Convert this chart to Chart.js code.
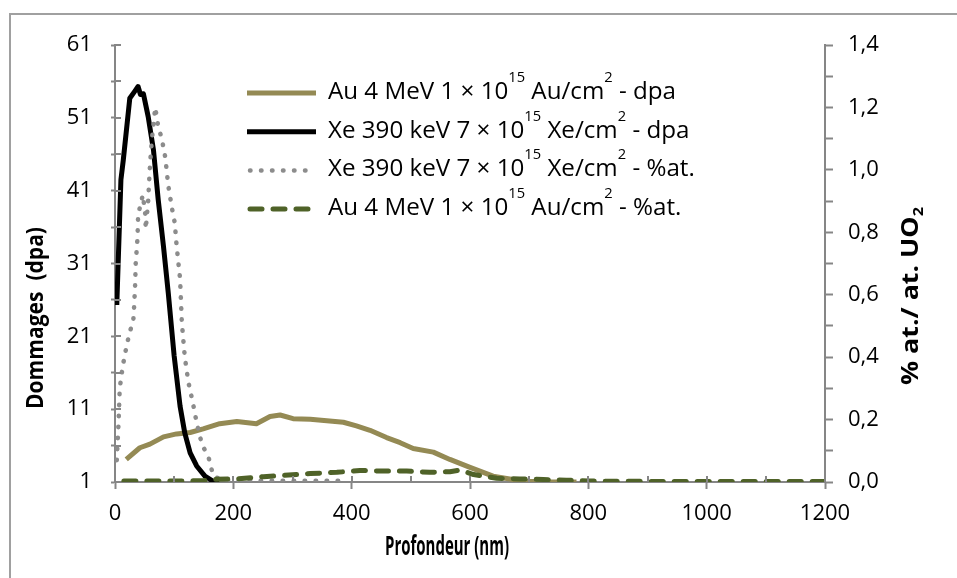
<!DOCTYPE html>
<html>
<head>
<meta charset="utf-8">
<script src="https://cdn.jsdelivr.net/npm/chart.js@4.4.1/dist/chart.umd.min.js"></script>
<style>
  html, body { margin: 0; padding: 0; background: #fff; }
</style>
</head>
<body>
<canvas id="c" width="957" height="578"></canvas>
<script>
// Profondeur (nm) et valeurs
const auDpaDepth = [19, 42, 59, 82, 104, 127, 149, 177, 206, 239, 262, 279, 301, 330, 358, 386, 408, 431, 459, 482, 504, 538, 566, 600, 639, 690, 735, 780];
const auDpa      = [4.1, 5.7, 6.2, 7.2, 7.6, 7.8, 8.3, 9.0, 9.3, 9.0, 10.0, 10.2, 9.7, 9.6, 9.4, 9.2, 8.7, 8.1, 7.1, 6.4, 5.6, 5.1, 4.1, 3.0, 1.8, 1.1, 1.0, 1.0];

const xeDpaDepth = [3, 10, 14, 25, 33, 39, 43, 48, 56, 65, 73, 82, 90, 100, 110, 118, 127, 138, 152, 166, 176];
const xeDpa      = [25.3, 42.5, 45.2, 53.7, 54.6, 55.3, 54.2, 54.3, 51.2, 46.6, 39.8, 33.3, 27.0, 18.3, 11.4, 7.7, 5.0, 3.2, 1.8, 1.1, 1.0];

const xePctDepth = [3, 6, 8, 13, 20, 25, 31, 32, 34, 35, 38, 39, 42, 47, 51, 52, 56, 59, 62, 68, 73, 79, 85, 90, 96, 101, 104, 110, 113, 118, 124, 132, 138, 147, 158, 166, 180, 220, 260, 300, 340, 386];
const xePct      = [0.07, 0.19, 0.30, 0.37, 0.44, 0.48, 0.52, 0.55, 0.63, 0.70, 0.78, 0.85, 0.88, 0.92, 0.86, 0.81, 0.90, 1.01, 1.09, 1.20, 1.14, 1.10, 1.04, 0.95, 0.88, 0.83, 0.76, 0.65, 0.51, 0.40, 0.32, 0.25, 0.19, 0.12, 0.08, 0.02, 0.006, 0.004, 0.004, 0.004, 0.004, 0.004];

const auPctDepth = [15, 60, 100, 150, 160, 206, 251, 284, 330, 375, 414, 453, 493, 532, 566, 583, 606, 645, 684, 724, 763, 800, 900, 1000, 1100, 1200];
const auPct      = [0.003, 0.003, 0.003, 0.004, 0.008, 0.010, 0.017, 0.021, 0.027, 0.031, 0.037, 0.035, 0.035, 0.031, 0.033, 0.038, 0.024, 0.012, 0.010, 0.008, 0.006, 0.003, 0.002, 0.002, 0.002, 0.002];

const seriesLabels = [
    'Au 4 MeV 1 × 10^15 Au/cm^2 - dpa',
    'Xe 390 keV 7 × 10^15 Xe/cm^2 - dpa',
    'Xe 390 keV 7 × 10^15 Xe/cm^2 - %at.',
    'Au 4 MeV 1 × 10^15 Au/cm^2 - %at.'
];
const leftTicks = [1, 6, 11, 16, 21, 26, 31, 36, 41, 46, 51, 56, 61];

const axisColor = '#868686';
const fontFamily = '"Open Sans", "DejaVu Sans", sans-serif';
const tickFont = { family: fontFamily, size: 22 };

function points(xs, ys) {
    return xs.map((x, i) => ({ x: x, y: ys[i] }));
}

// texte éventuellement compressé dans le sens de lecture
function drawFitted(ctx, parts, cx, cy, angle, targetLen, size) {
    ctx.save();
    const subSize = Math.round(size * 0.62);
    let total = 0;
    parts.forEach(p => {
        ctx.font = 'bold ' + (p.sub ? subSize : size) + 'px ' + fontFamily;
        total += ctx.measureText(p.t).width;
    });
    const k = targetLen / total;
    ctx.translate(cx, cy);
    ctx.rotate(angle);
    ctx.scale(k, 1);
    ctx.fillStyle = '#000';
    ctx.textBaseline = 'middle';
    let x = -total / 2;
    parts.forEach(p => {
        ctx.font = 'bold ' + (p.sub ? subSize : size) + 'px ' + fontFamily;
        ctx.fillText(p.t, x, p.sub ? size * 0.35 : 0);
        x += ctx.measureText(p.t).width;
    });
    ctx.restore();
}

const decorPlugin = {
    id: 'decor',
    beforeDraw(chart) {
        const ctx = chart.ctx;
        ctx.save();
        ctx.fillStyle = '#fff';
        ctx.fillRect(0, 0, chart.width, chart.height);
        ctx.strokeStyle = '#a0a0a0';
        ctx.lineWidth = 2;
        ctx.strokeRect(10, 14, 980, 620);
        ctx.restore();
    },
    afterDraw(chart) {
        const ctx = chart.ctx;
        const area = chart.chartArea;

        // graduations côté intérieur
        ctx.save();
        ctx.strokeStyle = axisColor;
        ctx.lineWidth = 2;
        ctx.beginPath();
        chart.scales.x.ticks.forEach(t => {
            const px = Math.round(chart.scales.x.getPixelForValue(t.value));
            ctx.moveTo(px, area.bottom);
            ctx.lineTo(px, area.bottom - 6);
        });
        chart.scales.y.ticks.forEach(t => {
            const py = Math.round(chart.scales.y.getPixelForValue(t.value));
            ctx.moveTo(area.left, py);
            ctx.lineTo(area.left + 6, py);
        });
        ctx.stroke();
        ctx.restore();

        drawFitted(ctx, [{ t: 'Dommages  (dpa)' }], 36.5, 318, -Math.PI / 2, 182, 23);
        drawFitted(ctx, [{ t: 'Profondeur (nm)' }], 447, 548, 0, 124, 26);
        drawFitted(ctx, [{ t: '% at./ at. UO' }, { t: '2', sub: true }], 911, 296, -Math.PI / 2, 178, 23);

        // légende
        const size = 23, supSize = 14;
        ctx.save();
        const ref = seriesLabels[0].split(/\^(\d+)/);
        let refW = 0;
        ref.forEach((s, j) => {
            ctx.font = (j % 2 ? supSize : size) + 'px ' + fontFamily;
            refW += ctx.measureText(s).width;
        });
        const k = 348 / refW;
        chart.data.datasets.forEach((ds, i) => {
            const y = 93 + i * 38.7;
            ctx.save();
            ctx.strokeStyle = ds.borderColor;
            ctx.lineWidth = ds.borderWidth;
            ctx.lineCap = ds.borderCapStyle || 'butt';
            ctx.setLineDash(ds.borderDash || []);
            ctx.beginPath();
            ctx.moveTo(ds.borderDash ? 250 : 247, y);
            ctx.lineTo(ds.borderDash ? 314 : 316, y);
            ctx.stroke();
            ctx.restore();

            ctx.save();
            ctx.translate(328, y + 6);
            ctx.scale(k, 1);
            ctx.fillStyle = '#000';
            ctx.textBaseline = 'alphabetic';
            let x = 0;
            seriesLabels[i].split(/\^(\d+)/).forEach((s, j) => {
                ctx.font = (j % 2 ? supSize : size) + 'px ' + fontFamily;
                ctx.fillText(s, x, j % 2 ? -17 : 0);
                x += ctx.measureText(s).width;
            });
            ctx.restore();
        });
        ctx.restore();
    }
};

new Chart(document.getElementById('c').getContext('2d'), {
    type: 'line',
    data: {
        datasets: [{
            label: seriesLabels[0],
            data: points(auDpaDepth, auDpa),
            yAxisID: 'y',
            borderColor: '#948A54',
            borderWidth: 5,
            order: 4
        }, {
            label: seriesLabels[1],
            data: points(xeDpaDepth, xeDpa),
            yAxisID: 'y',
            borderColor: '#000000',
            borderWidth: 5,
            order: 3
        }, {
            label: seriesLabels[2],
            data: points(xePctDepth, xePct),
            yAxisID: 'y2',
            borderColor: '#8C8C8C',
            borderWidth: 4.5,
            borderDash: [0.5, 10.5],
            borderCapStyle: 'round',
            order: 2
        }, {
            label: seriesLabels[3],
            data: points(auPctDepth, auPct),
            yAxisID: 'y2',
            borderColor: '#4F6228',
            borderWidth: 5,
            borderDash: [12, 11],
            borderCapStyle: 'round',
            order: 1
        }]
    },
    options: {
        responsive: false,
        animation: false,
        events: [],
        elements: {
            point: { radius: 0 },
            line: { tension: 0, borderJoinStyle: 'round' }
        },
        layout: { padding: { top: 45, left: 0, right: 0, bottom: 0 } },
        plugins: {
            legend: { display: false },
            tooltip: { enabled: false }
        },
        scales: {
            x: {
                type: 'linear',
                min: 0,
                max: 1200,
                ticks: {
                    stepSize: 100,
                    autoSkip: false,
                    maxRotation: 0,
                    padding: 12,
                    font: tickFont,
                    color: '#000',
                    callback: v => (v % 200 === 0 ? v : '')
                },
                grid: {
                    drawOnChartArea: false,
                    tickLength: 7,
                    tickColor: c => (c.tick && c.tick.value % 200 === 0 ? axisColor : 'rgba(0,0,0,0)'),
                    tickWidth: 2
                },
                border: { display: true, color: axisColor, width: 2 },
                afterFit: s => { s.height = 578 - 482; }
            },
            y: {
                position: 'left',
                min: 1,
                max: 61,
                afterBuildTicks: s => { s.ticks = leftTicks.map(v => ({ value: v })); },
                ticks: {
                    autoSkip: false,
                    padding: 19,
                    font: tickFont,
                    color: '#000',
                    callback: v => ((v - 1) % 10 === 0 ? v : '')
                },
                grid: { drawOnChartArea: false, tickLength: 4, tickColor: axisColor, tickWidth: 2 },
                border: { display: true, color: axisColor, width: 2 },
                afterFit: s => { s.width = 115; }
            },
            y2: {
                position: 'right',
                min: 0,
                max: 1.4,
                ticks: {
                    stepSize: 0.1,
                    autoSkip: false,
                    padding: 15,
                    font: tickFont,
                    color: '#000',
                    callback: v => (Math.round(v * 10) % 2 === 0 ? v.toFixed(1).replace('.', ',') : '')
                },
                grid: { drawOnChartArea: false, tickLength: 8, tickColor: axisColor, tickWidth: 2 },
                border: { display: true, color: axisColor, width: 2 },
                afterFit: s => { s.width = 957 - 825; }
            }
        }
    },
    plugins: [decorPlugin]
});
</script>
</body>
</html>
